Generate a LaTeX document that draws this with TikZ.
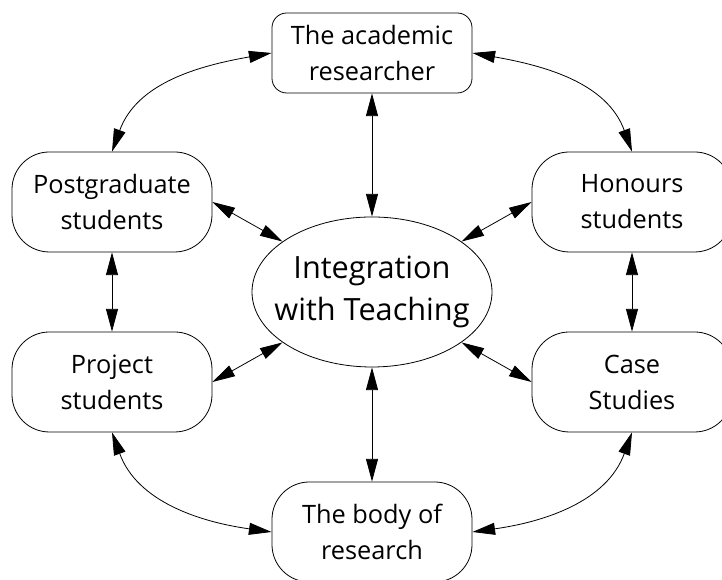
\documentclass[tikz,border=0pt]{standalone}
\usepackage{fontspec}
\setmainfont{Open Sans}
\usetikzlibrary{shapes.geometric,arrows.meta}

\begin{document}
\begin{tikzpicture}[x=0.75pt,y=0.75pt,
  line width=0.6pt,
  pill/.style={draw, rounded corners=28pt, minimum width=150pt, minimum height=75pt,
    inner sep=0pt, align=center, font=\fontsize{19}{27}\selectfont},
  topbox/.style={pill, rounded corners=11pt, minimum height=60pt},
  hub/.style={draw, ellipse, minimum width=180pt, minimum height=112.5pt,
    inner xsep=-14pt, inner ysep=0pt, align=center, font=\fontsize{23}{31.5}\selectfont},
  link/.style={<->, >={Triangle[length=17pt,width=9pt]}}]

\useasboundingbox (0,0) rectangle (722,580);

\node [topbox] (academic) at (372,527) {The academic\\researcher};
\node [pill] (postgrad) at (112,378) {Postgraduate\\students};
\node [pill] (honours) at (632,378) {Honours\\students};
\node [hub] (integ) at (372,288) {Integration\\with Teaching};
\node [pill] (project) at (112,198) {Project\\students};
\node [pill] (case) at (632,198) {Case\\Studies};
\node [pill] (body) at (372,48) {The body of\\research};

% round the outside
\draw [link] (academic.west) to [out=190, in=70] (postgrad.north);
\draw [link] (academic.east) to [out=-10, in=110] (honours.north);
\draw [link] (project.south) to [out=-70, in=172] (body.west);
\draw [link] (case.south) to [out=-110, in=8] (body.east);

\draw [link] (postgrad.south) -- (project.north);
\draw [link] (honours.south) -- (case.north);

% spokes into the middle
\draw [link] (academic.south) -- (integ.north);
\draw [link] (integ.south) -- (body.north);
\draw [link] (postgrad.east) -- (integ);
\draw [link] (honours.west) -- (integ);
\draw [link] (project.east) -- (integ);
\draw [link] (case.west) -- (integ);

\end{tikzpicture}
\end{document}
